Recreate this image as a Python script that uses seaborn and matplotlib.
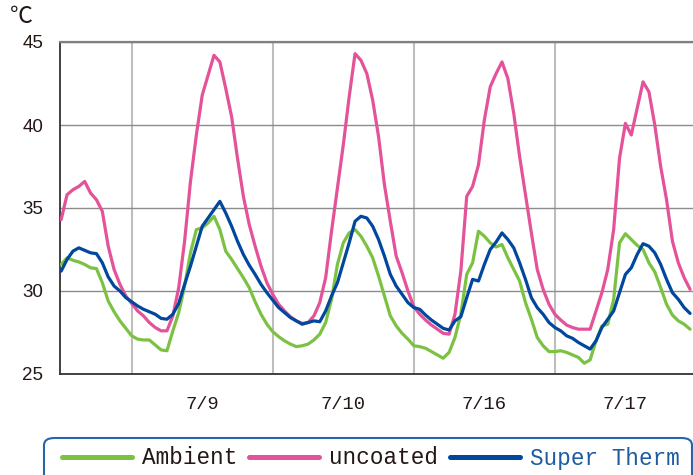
import matplotlib
matplotlib.use("Agg")
import matplotlib.pyplot as plt
from matplotlib.patches import FancyBboxPatch
import seaborn as sns
import pandas as pd

# ---- data (hourly samples) ----
hours = list(range(108))

ambient = [31.6, 32.0, 31.85, 31.75, 31.6, 31.4, 31.35, 30.5, 29.4, 28.75,
           28.2, 27.75, 27.3, 27.1, 27.05, 27.05, 26.75, 26.45, 26.4, 27.6,
           28.7, 30.3, 32.3, 33.7, 33.8, 34.1, 34.5, 33.7, 32.4, 31.9,
           31.35, 30.8, 30.2, 29.35, 28.6, 28.0, 27.55, 27.25, 27.0, 26.8,
           26.65, 26.7, 26.8, 27.05, 27.4, 28.1, 29.5, 31.6, 32.9, 33.5,
           33.7, 33.3, 32.7, 32.0, 30.9, 29.7, 28.5, 27.9, 27.45, 27.1,
           26.7, 26.65, 26.55, 26.35, 26.15, 25.95, 26.3, 27.2, 28.6, 31.0,
           31.7, 33.6, 33.3, 32.9, 32.65, 32.8, 32.0, 31.3, 30.6, 29.3,
           28.3, 27.2, 26.7, 26.35, 26.35, 26.4, 26.3, 26.15, 26.0, 25.65,
           25.85, 27.0, 27.9, 28.0, 29.5, 32.9, 33.45, 33.1, 32.75, 32.5,
           31.7, 31.15, 30.2, 29.2, 28.55, 28.2, 28.0, 27.7]

uncoated = [34.3, 35.8, 36.1, 36.3, 36.6, 35.9, 35.5, 34.8, 32.7, 31.3,
            30.4, 29.7, 29.25, 28.8, 28.5, 28.1, 27.8, 27.6, 27.6, 28.5,
            30.2, 33.0, 36.6, 39.4, 41.8, 43.0, 44.2, 43.8, 42.2, 40.5,
            38.0, 35.7, 34.0, 32.7, 31.5, 30.5, 29.8, 29.2, 28.8, 28.45,
            28.2, 28.05, 28.1, 28.5, 29.3, 30.8, 33.6, 36.2, 38.8, 41.7,
            44.3, 43.9, 43.1, 41.5, 39.3, 36.4, 34.2, 32.1, 31.1, 30.0,
            29.05, 28.6, 28.25, 27.95, 27.7, 27.45, 27.4, 28.6, 31.2, 35.7,
            36.3, 37.6, 40.3, 42.3, 43.1, 43.8, 42.8, 40.7, 38.1, 35.8,
            33.5, 31.3, 30.1, 29.2, 28.6, 28.25, 27.95, 27.8, 27.7, 27.7,
            27.7, 28.8, 29.9, 31.3, 33.7, 38.0, 40.1, 39.4, 41.0, 42.6,
            42.0, 40.0, 37.5, 35.5, 33.0, 31.7, 30.8, 30.1]

super_therm = [31.2, 31.9, 32.4, 32.6, 32.45, 32.3, 32.25, 31.7, 30.85, 30.3,
               30.0, 29.6, 29.35, 29.1, 28.9, 28.75, 28.6, 28.35, 28.3, 28.6,
               29.25, 30.4, 31.5, 32.7, 33.9, 34.4, 34.9, 35.4, 34.7, 33.9,
               33.0, 32.2, 31.55, 31.0, 30.4, 29.9, 29.45, 29.0, 28.7, 28.4,
               28.2, 28.0, 28.1, 28.2, 28.15, 28.8, 29.7, 30.5, 31.7, 32.9,
               34.2, 34.5, 34.4, 33.9, 33.1, 32.1, 31.0, 30.3, 29.8, 29.3,
               29.0, 28.9, 28.55, 28.25, 28.0, 27.75, 27.65, 28.2, 28.45, 29.6,
               30.7, 30.6, 31.6, 32.5, 32.95, 33.5, 33.1, 32.6, 31.7, 30.7,
               29.6, 29.0, 28.6, 28.1, 27.8, 27.6, 27.3, 27.15, 26.9, 26.7,
               26.5, 27.0, 27.8, 28.3, 28.8, 29.9, 31.0, 31.4, 32.2, 32.85,
               32.7, 32.3, 31.6, 30.7, 29.9, 29.5, 29.0, 28.65]

series_names = ["Ambient", "uncoated", "Super Therm"]
series_colors = ["#7cc242", "#e4529a", "#00479d"]
text_colors = ["#231815", "#231815", "#1d5ba3"]

tick_hours = [24, 48, 72, 96]
tick_labels = ["7/9", "7/10", "7/16", "7/17"]
midnight_hours = [12, 36, 60, 84]
y_ticks = [25, 30, 35, 40, 45]

df = pd.DataFrame({
    "hour": hours * 3,
    "temp": ambient + uncoated + super_therm,
    "series": [series_names[0]] * len(hours) + [series_names[1]] * len(hours)
              + [series_names[2]] * len(hours),
})

# ---- figure ----
sns.set_style("white")
plt.rcParams["font.family"] = ["Liberation Sans", "DejaVu Sans"]
W, H = 693, 475
fig = plt.figure(figsize=(W / 100, H / 100), dpi=100)
ax = fig.add_axes([60 / W, (H - 374) / H, (W - 60) / W, 332 / H])

sns.lineplot(data=df, x="hour", y="temp", hue="series",
             palette=dict(zip(series_names, series_colors)),
             hue_order=series_names, linewidth=2.3, ax=ax, legend=False,
             zorder=3)

ax.set_xlim(-0.2, 107.5)
ax.set_ylim(25, 45)
ax.set_xlabel("")
ax.set_ylabel("")

ax.set_yticks(y_ticks)
ax.set_yticklabels([str(v) for v in y_ticks], fontsize=13.5, color="#231815")
ax.set_xticks(tick_hours)
ax.set_xticklabels(tick_labels, fontsize=13.5, color="#231815",
                   family=["Liberation Mono", "DejaVu Sans Mono"])
ax.set_xticks(midnight_hours, minor=True)

ax.tick_params(axis="y", which="major", direction="in", length=6.5,
               width=1.2, color="#333333", pad=12)
ax.tick_params(axis="x", which="major", direction="in", length=6,
               width=1.2, color="#333333", pad=16)
ax.tick_params(axis="x", which="minor", length=0)

ax.yaxis.grid(True, which="major", color="#8c8c8c", linewidth=1.0, zorder=1)
ax.xaxis.grid(True, which="minor", color="#bdbdbd", linewidth=1.5, zorder=1)
ax.xaxis.grid(False, which="major")
ax.set_axisbelow(True)

for side in ["left", "bottom"]:
    ax.spines[side].set_color("#333333")
    ax.spines[side].set_linewidth(1.3)
ax.spines["top"].set_color("#808080")
ax.spines["top"].set_linewidth(1.6)
ax.spines["right"].set_visible(False)

# unit label
fig.text(10 / W, 1 - 5 / H, "℃", fontsize=16.5, color="#231815",
         family=["Noto Sans CJK JP", "DejaVu Sans"], va="top", ha="left")

# legend frame
frame = FancyBboxPatch((44 / W, (H - 485) / H), (692 - 44) / W, 47 / H,
                       boxstyle="round,pad=0,rounding_size=0.015",
                       transform=fig.transFigure, facecolor="white",
                       edgecolor="#2a64a8", linewidth=1.5, zorder=0)
fig.patches.append(frame)

handles = [plt.Line2D([], [], color=c, linewidth=3.6) for c in series_colors]
leg = fig.legend(handles, series_names, loc="center left",
                 bbox_to_anchor=(62 / W, 1 - 458 / H), ncol=3,
                 frameon=False, borderpad=0, borderaxespad=0,
                 handlelength=3.1, handletextpad=0.45, columnspacing=0.5,
                 prop={"family": ["Liberation Mono", "DejaVu Sans Mono"],
                       "size": 16.3})
for t, c in zip(leg.get_texts(), text_colors):
    t.set_color(c)

fig.savefig("out.png", dpi=100)
